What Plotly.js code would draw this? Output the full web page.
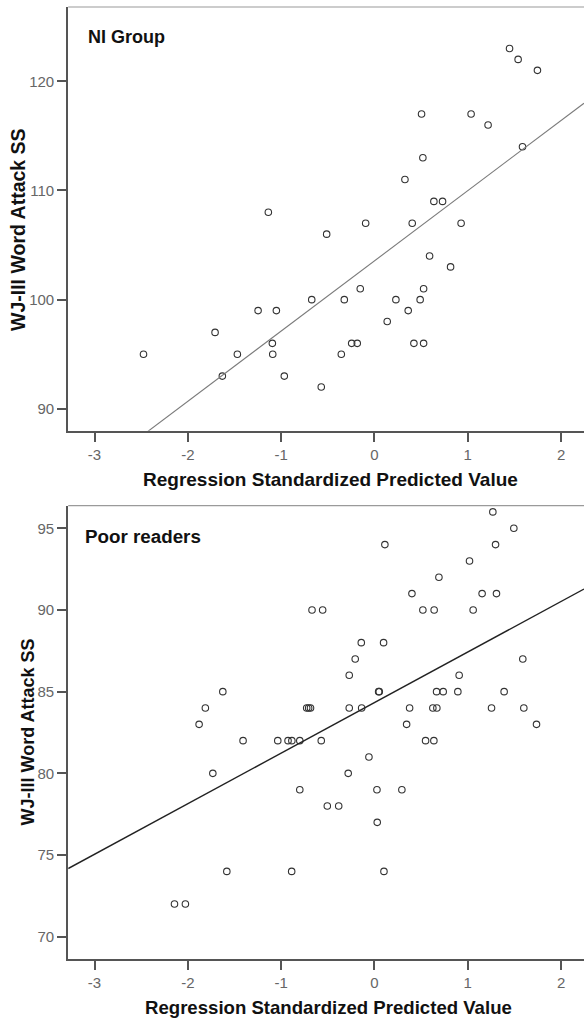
<!DOCTYPE html>
<html>
<head>
<meta charset="utf-8">
<script src="https://cdn.plot.ly/plotly-3.0.1.min.js"></script>
<style>html,body{margin:0;padding:0;background:#fff;}#chart{width:584px;height:1018px;}</style>
</head>
<body>
<div id="chart"></div>
<script>
// NI Group: regression standardized predicted value (x) vs WJ-III Word Attack SS (y)
const niX = [-2.475, -1.708, -1.469, -1.630, -1.247, -1.051, -1.094, -1.090, -0.966, -1.137,
  -0.672, -0.512, -0.570, -0.355, -0.323, -0.244, -0.184, -0.152, -0.094, 0.137,
  0.230, 0.362, 0.327, 0.405, 0.423, 0.490, 0.527, 0.527, 0.505, 0.519,
  0.591, 0.637, 0.730, 0.816, 0.929, 1.036, 1.218, 1.587, 1.448, 1.540, 1.747];
const niY = [95, 97, 95, 93, 99, 99, 96, 95, 93, 108,
  100, 106, 92, 95, 100, 96, 96, 101, 107, 98,
  100, 99, 111, 107, 96, 100, 101, 96, 117, 113,
  104, 109, 109, 103, 107, 117, 116, 114, 123, 122, 121];
const niFit = {intercept: 103.55, slope: 6.43};

// Poor readers
const prX = [1.269, 1.494, 0.112, 1.298, 1.019, 0.691, 0.402, 1.154, 1.308,
  -0.669, -0.555, 0.519, 0.640, 1.058, -0.141, 0.098, -0.206, 1.590, -0.270, 0.908,
  -1.625, 0.045, 0.052, 0.666, 0.737, 0.894, 1.390,
  -1.812, -0.726, -0.705, -0.685, -0.270, -0.137, 0.377, 0.626, 0.669, 1.255, 1.601,
  -1.879, 0.345, 1.737,
  -1.408, -1.036, -0.926, -0.885, -0.800, -0.570, 0.548, 0.637,
  -0.059, -1.732, -0.281, -0.800, 0.027, 0.294, -0.505, -0.383, 0.030,
  -1.582, -0.887, 0.102, -2.143, -2.026];
const prY = [96, 95, 94, 94, 93, 92, 91, 91, 91,
  90, 90, 90, 90, 90, 88, 88, 87, 87, 86, 86,
  85, 85, 85, 85, 85, 85, 85,
  84, 84, 84, 84, 84, 84, 84, 84, 84, 84, 84,
  83, 83, 83,
  82, 82, 82, 82, 82, 82, 82, 82,
  81, 80, 80, 79, 79, 79, 78, 78, 77,
  74, 74, 74, 72, 72];
const prFit = {intercept: 84.33, slope: 3.094};

const xRange = [-3.282, 2.246];
const xTicks = [-3, -2, -1, 0, 1, 2];
const xTickText = ['-3', '-2', '-1', '0', '1', '2'];
const niYRange = [88.0, 126.8];
const niYTicks = [90, 100, 110, 120];
const prYRange = [68.62, 96.38];
const prYTicks = [70, 75, 80, 85, 90, 95];

const panelTitles = ['NI Group', 'Poor readers'];
const xTitle = 'Regression Standardized Predicted Value';
const yTitle = 'WJ-III Word Attack SS';

function fitLine(f) {
  return {x: xRange.slice(), y: xRange.map(v => f.intercept + f.slope * v)};
}
const niLine = fitLine(niFit);
const prLine = fitLine(prFit);

const marker = {symbol: 'circle-open', size: 6.5, color: '#333', line: {width: 1.1, color: '#333'}};
const data = [
  {type: 'scatter', mode: 'markers', x: niX, y: niY, xaxis: 'x', yaxis: 'y', marker: marker, hoverinfo: 'x+y'},
  {type: 'scatter', mode: 'lines', x: niLine.x, y: niLine.y, xaxis: 'x', yaxis: 'y', line: {color: '#7a7a7a', width: 1.1}},
  {type: 'scatter', mode: 'markers', x: prX, y: prY, xaxis: 'x2', yaxis: 'y2', marker: marker, hoverinfo: 'x+y'},
  {type: 'scatter', mode: 'lines', x: prLine.x, y: prLine.y, xaxis: 'x2', yaxis: 'y2', line: {color: '#222', width: 1.4}}
];

const W = 584, H = 1018;
const px = v => v / W, py = v => 1 - v / H;
const FAM = 'Liberation Sans, Arial, sans-serif';
const tickFont = {family: FAM, size: 15, color: '#666'};
const axisCommon = {
  showgrid: false, zeroline: false, showline: true, linecolor: '#555', linewidth: 2,
  ticks: 'outside', ticklen: 9, tickwidth: 2, tickcolor: '#555', tickfont: tickFont
};
const f = s => ({family: FAM, size: s, color: '#111'});

const layout = {
  width: W, height: H, showlegend: false,
  margin: {l: 0, r: 0, t: 0, b: 0},
  paper_bgcolor: '#fff', plot_bgcolor: '#fff',
  xaxis: Object.assign({}, axisCommon, {domain: [px(68.2), 1], range: xRange, tickvals: xTicks, ticktext: xTickText, anchor: 'y'}),
  yaxis: Object.assign({}, axisCommon, {domain: [py(430.7), py(7)], range: niYRange, tickvals: niYTicks, anchor: 'x'}),
  xaxis2: Object.assign({}, axisCommon, {domain: [px(68.2), 1], range: xRange, tickvals: xTicks, ticktext: xTickText, anchor: 'y2'}),
  yaxis2: Object.assign({}, axisCommon, {domain: [py(959.3), py(505.7)], range: prYRange, tickvals: prYTicks, anchor: 'x2'}),
  shapes: [
    {type: 'line', xref: 'paper', yref: 'paper', x0: px(68.2), x1: 1, y0: py(7), y1: py(7), line: {color: '#9a9a9a', width: 1.2}},
    {type: 'line', xref: 'paper', yref: 'paper', x0: px(68.2), x1: 1, y0: py(505.7), y1: py(505.7), line: {color: '#9a9a9a', width: 1.2}}
  ],
  annotations: [
    {text: '<b>' + panelTitles[0] + '</b>', xref: 'paper', yref: 'paper', x: px(85.5), y: py(37), xanchor: 'left', yanchor: 'middle', showarrow: false, font: f(18)},
    {text: '<b>' + panelTitles[1] + '</b>', xref: 'paper', yref: 'paper', x: px(82.5), y: py(536.7), xanchor: 'left', yanchor: 'middle', showarrow: false, font: f(18.8)},
    {text: '<b>' + xTitle + '</b>', xref: 'paper', yref: 'paper', x: px(330), y: py(479.5), xanchor: 'center', yanchor: 'middle', showarrow: false, font: f(19)},
    {text: '<b>' + xTitle + '</b>', xref: 'paper', yref: 'paper', x: px(328), y: py(1007.5), xanchor: 'center', yanchor: 'middle', showarrow: false, font: f(18.6)},
    {text: '<b>' + yTitle + '</b>', xref: 'paper', yref: 'paper', x: px(18), y: py(230), xanchor: 'center', yanchor: 'middle', textangle: -90, showarrow: false, font: f(19.5)},
    {text: '<b>' + yTitle + '</b>', xref: 'paper', yref: 'paper', x: px(27.5), y: py(732), xanchor: 'center', yanchor: 'middle', textangle: -90, showarrow: false, font: f(18)}
  ]
};

Plotly.newPlot('chart', data, layout, {displayModeBar: false, staticPlot: true});
</script>
</body>
</html>
